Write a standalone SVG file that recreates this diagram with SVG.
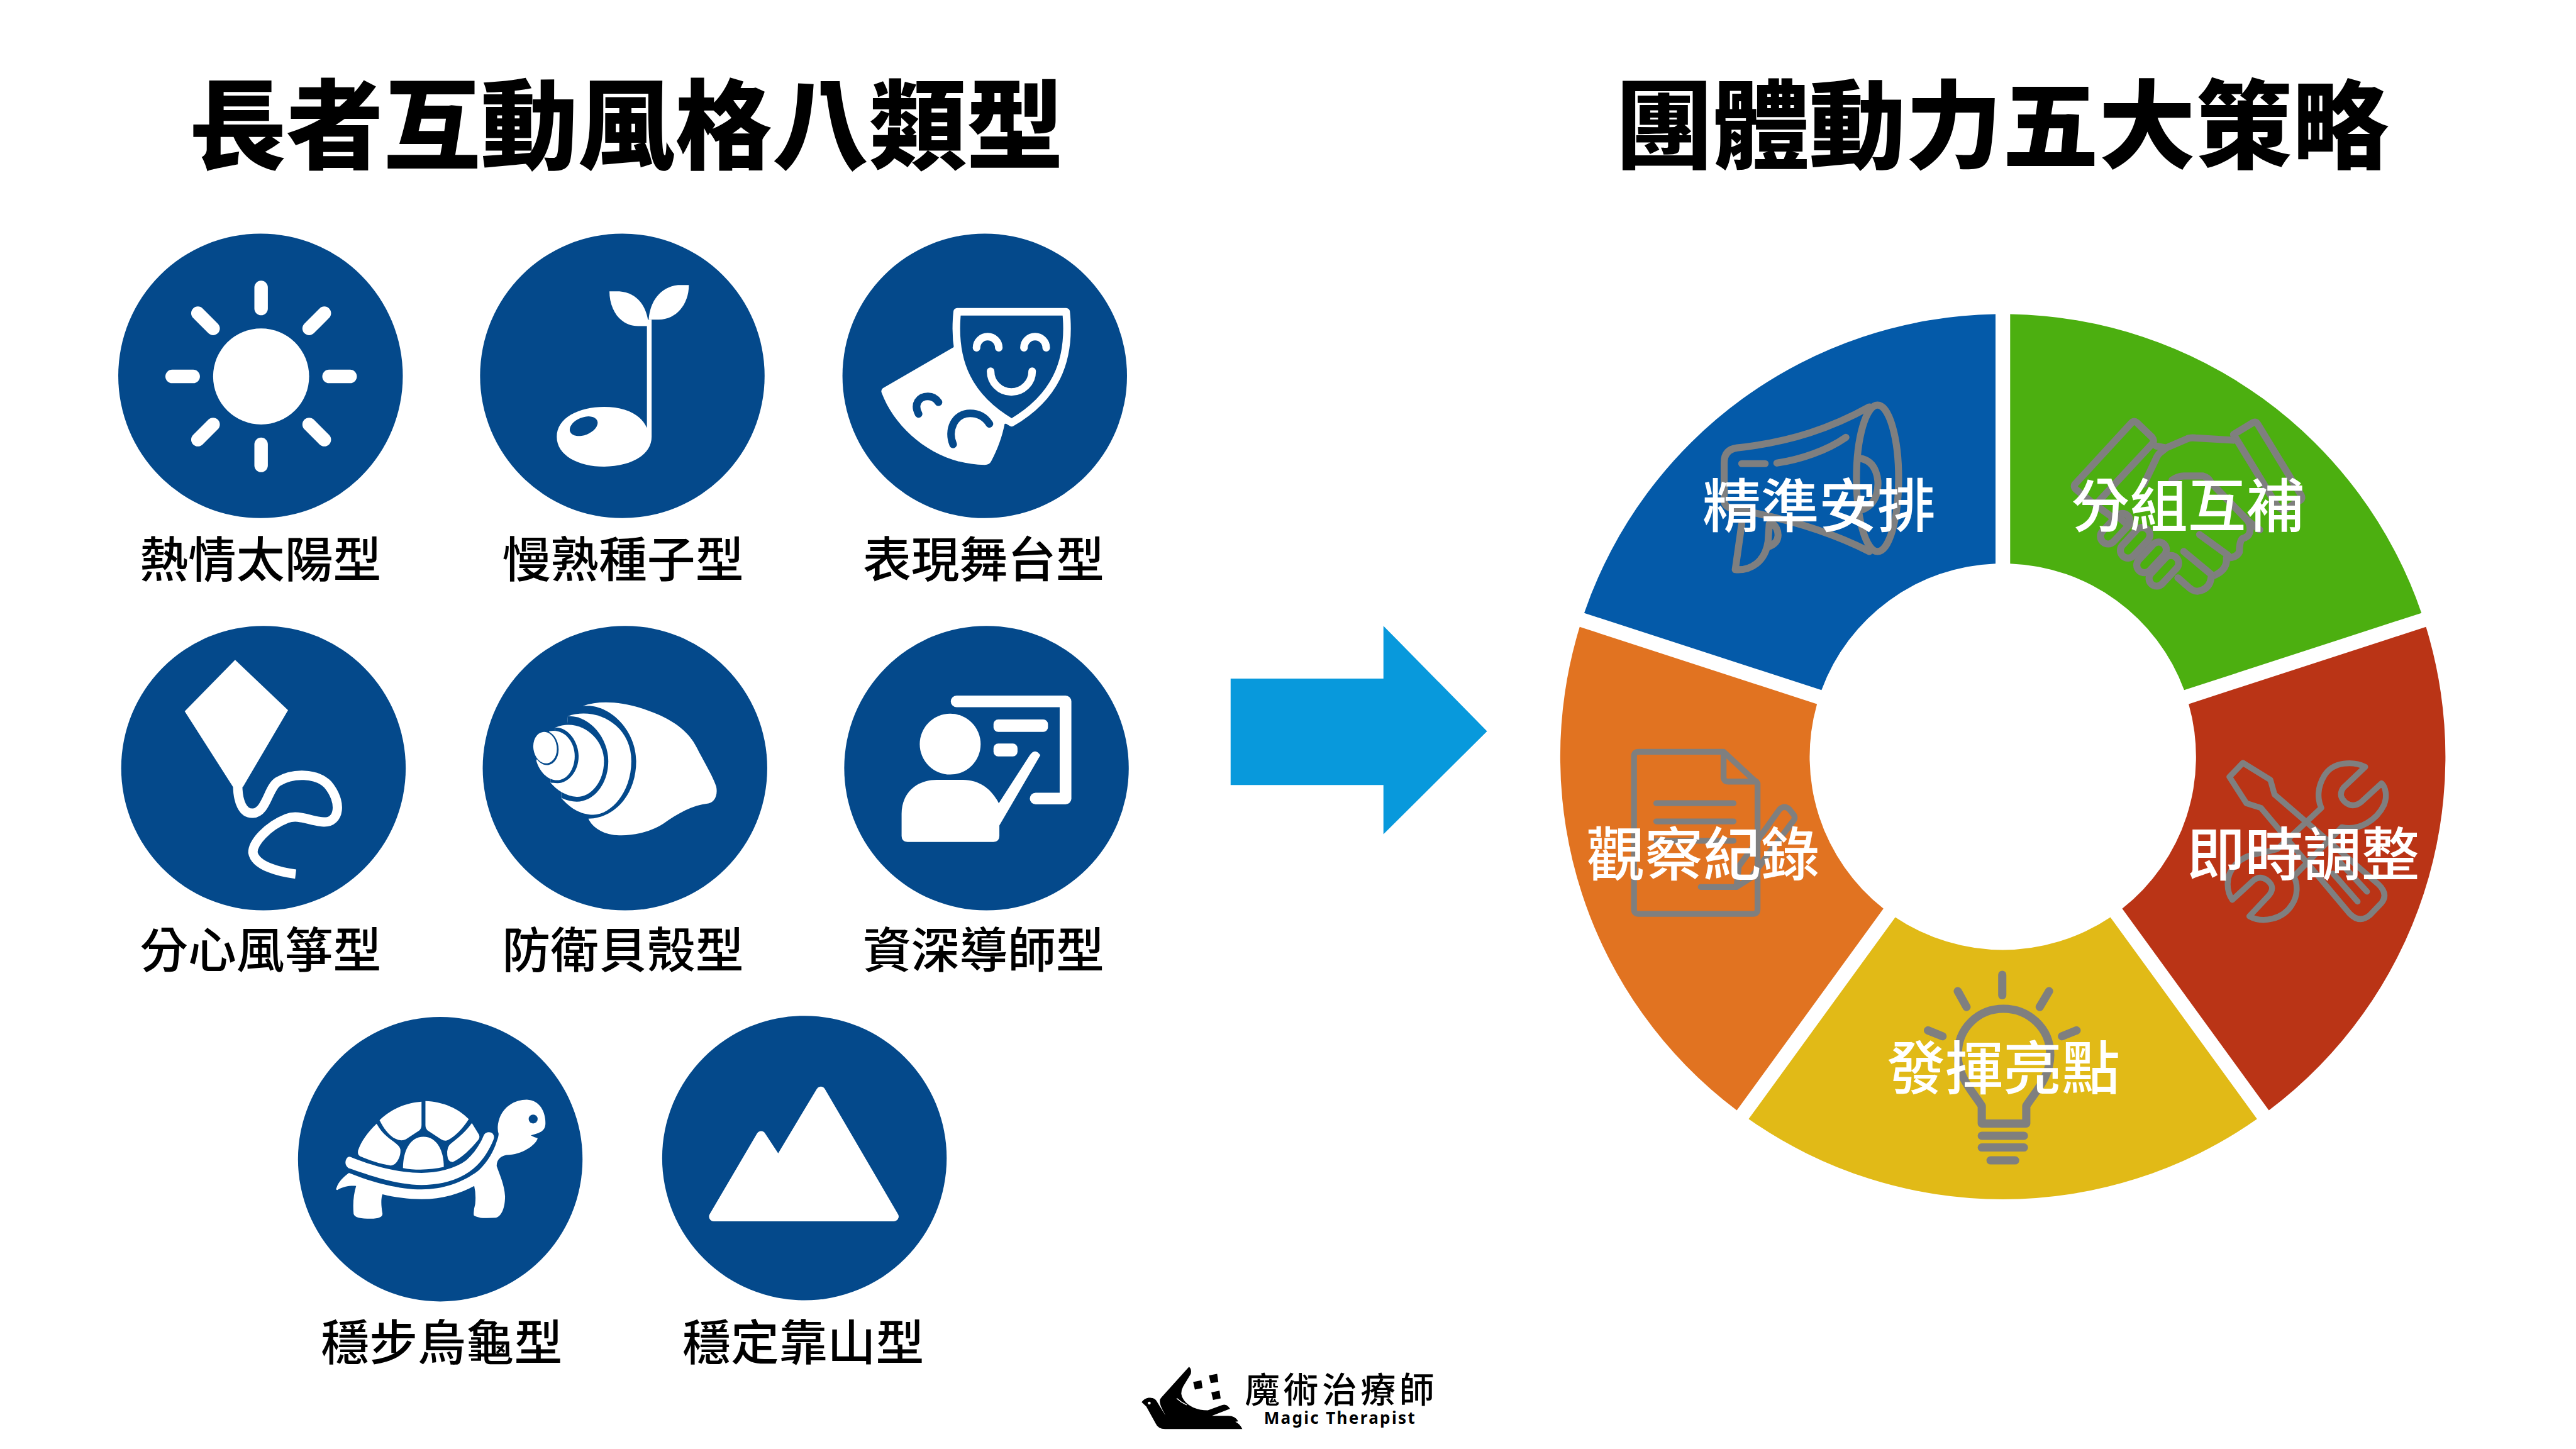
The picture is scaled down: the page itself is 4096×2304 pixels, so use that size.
<svg xmlns="http://www.w3.org/2000/svg" width="4096" height="2304" viewBox="0 0 4096 2304">
<style>
text{font-family:"Noto Sans CJK TC","Noto Sans CJK SC",sans-serif;text-anchor:middle}
.title{font-weight:900;fill:#000}
.label{font-size:82.500px;font-weight:500;fill:#000}
.seg{font-size:99.500px;font-weight:500;fill:#fff}
.disc{fill:#04498B}
.w{fill:#fff}
.bf{fill:#04498B}
.b{fill:none;stroke:#04498B;stroke-linecap:round;stroke-linejoin:round}
.ws{fill:none;stroke:#fff;stroke-linecap:round;stroke-linejoin:round}
.g{fill:none;stroke:#7F7F7F;stroke-width:12;stroke-linecap:round;stroke-linejoin:round}
</style>
<rect width="4096" height="2304" fill="#fff"/>
<g transform="scale(0.93091)">
<g id="titles">
<text class="title" font-size="166" x="1070" y="275">長者互動風格八類型</text>
<text class="title" font-size="165" x="3420" y="275">團體動力五大策略</text>
</g>

<g id="node-sun">
<circle class="disc" cx="445" cy="642" r="243"/>
<circle class="w" cx="446" cy="643" r="82"/>
<path class="ws" stroke-width="23" d="M446,491V527M446,759V795M294,643H330M562,643H598M338,535L364,561M528,725L554,751M554,535L528,561M364,725L338,751"/>
<text class="label" x="445" y="986">熱情太陽型</text>
</g>

<g id="node-seed">
<circle class="disc" cx="1063" cy="642" r="243"/>
<path class="w" d="M1105,546H1113V746C1113,778 1076,797 1032,797C988,797 951,778 951,746C951,714 988,695 1032,695C1066,695 1094,706 1105,731Z"/>
<ellipse cx="997" cy="728" rx="25" ry="15" transform="rotate(-22 997 728)" fill="#04498B"/>
<path class="w" d="M1041,497.500H1058C1090,500 1106,525 1108,557H1090C1060,557 1041,530 1041,497.500Z"/>
<path class="w" d="M1176.600,487H1158C1128,490 1110,515 1108,546H1125C1155,546 1176.600,520 1176.600,487Z"/>
<text class="label" x="1064" y="986">慢熟種子型</text>
</g>

<g id="node-masks">
<circle class="disc" cx="1682" cy="642" r="243"/>
<path class="w" d="M1629,593L1508,663Q1504,666 1506,671C1530,735 1600,794 1682,794Q1690,794 1693,788C1705,765 1712,745 1716,724L1728,722L1640,560Z"/>
<path d="M1635,532.500H1821C1830,620 1800,680 1728,722C1656,680 1626,620 1635,532.500Z" fill="#04498B" stroke="#fff" stroke-width="13" stroke-linejoin="round"/>
<path class="ws" stroke-width="13" d="M1668,594A19,19 0 0 1 1706,594M1749,594A19,19 0 0 1 1787,594M1692,634A35.500,35.500 0 0 0 1763,634"/>
<path class="b" stroke-width="13" d="M1569,707C1560,690 1570,677 1585,677C1593,677 1599,681 1603,687M1628,759C1618,735 1630,706 1657,706C1672,706 1683,713 1690,724"/>
<text class="label" x="1680" y="986">表現舞台型</text>
</g>

<g id="node-kite">
<circle class="disc" cx="450" cy="1312" r="243"/>
<path class="w" d="M401.600,1127L492,1213L415,1344H398L315.500,1215Z"/>
<path class="ws" stroke-width="16" style="stroke-linecap:butt" d="M406,1340C406,1370 415,1390 432,1389C455,1388 458,1345 475,1335C500,1320 540,1320 560,1340C585,1370 580,1405 553,1404C530,1403 510,1390 490,1398C455,1412 432,1440 432,1456C436,1480 480,1490 505,1493"/>
<text class="label" x="445" y="1653">分心風箏型</text>
</g>

<g id="node-shell">
<circle class="disc" cx="1067.500" cy="1312" r="243"/>
<g transform="translate(890,1180) scale(0.33333)">
<path class="w" d="M315,78C420,40 560,60 700,120C790,160 860,210 900,290C930,350 985,440 1000,490C1010,535 990,572 960,577C880,585 800,630 730,680C660,725 570,745 490,740C420,735 365,700 345,655C470,655 590,540 590,360C590,200 450,60 315,78Z"/>
<path class="w" d="M240,130C380,80 565,170 565,360C565,520 460,635 370,635C300,635 245,595 205,548Z"/>
<path class="bf" d="M240,130C350,125 447,240 447,360C447,480 370,568 285,568C255,568 225,558 205,548Z"/>
<path class="w" d="M175,188C300,135 425,240 425,360C425,470 355,545 285,543C230,540 185,510 150,470Z"/>
<path class="bf" d="M175,188C240,185 295,260 295,335C295,415 240,475 185,473C170,473 160,472 150,470Z"/>
<path class="w" d="M145,207C220,190 275,260 275,335C275,400 235,458 185,458C135,458 95,415 78,358Z"/>
<ellipse class="bf" cx="127" cy="293" rx="65" ry="88" transform="rotate(-8 127 293)"/>
<ellipse class="w" cx="123" cy="291" rx="60" ry="81" transform="rotate(-8 123 291)"/>
</g>
<text class="label" x="1064" y="1653">防衛貝殼型</text>
</g>

<g id="node-teacher">
<circle class="disc" cx="1685" cy="1312" r="243"/>
<path class="ws" stroke-width="20" d="M1634,1198H1820V1364H1769"/>
<circle class="w" cx="1623" cy="1271" r="52"/>
<path class="w" d="M1706,1372L1759,1290Q1768,1277 1777,1290L1707,1410V1428Q1707,1438 1697,1438H1550Q1540,1438 1540,1428V1390C1540,1355 1565,1332 1600,1332H1645C1675,1332 1695,1350 1706,1372Z"/>
<rect class="w" x="1697" y="1229" width="93" height="21" rx="8"/>
<rect class="w" x="1697" y="1270" width="41" height="22" rx="8"/>
<text class="label" x="1680" y="1653">資深導師型</text>
</g>

<g id="node-turtle">
<circle class="disc" cx="752" cy="1980" r="243"/>
<g transform="translate(560,1860) scale(0.33333)">
<path class="w" d="M480,65V185Q480,205 465,215L400,258Q375,270 345,255C310,235 285,200 265,160C320,105 400,70 480,65Z"/>
<path class="w" d="M500,62C590,65 670,100 722,155C690,205 650,245 615,262Q600,270 580,258L515,215Q500,205 500,185Z"/>
<path class="w" d="M385,405C385,320 420,245 490,245C560,245 595,320 594,400C530,415 450,418 385,405Z"/>
<path class="w" d="M250,178C280,235 320,255 350,280Q375,300 372,320C372,350 350,395 320,392C270,385 210,365 165,345Q150,335 155,315C170,270 205,220 250,178Z"/>
<path class="w" d="M738,175L775,235Q780,250 770,262C730,310 690,350 640,375Q615,375 612,340Q608,295 630,280C670,250 710,215 738,175Z"/>
<path class="w" d="M115,348C230,395 360,430 480,430C560,430 650,410 710,365C750,330 780,285 800,235Q815,215 840,225Q858,240 848,262C815,340 770,400 700,440C630,480 550,492 480,492C350,490 220,445 105,405Q85,390 92,365Q100,345 115,348Z"/>
<path class="w" d="M108,430C230,480 370,515 480,515C590,515 690,480 770,420C815,380 850,320 865,270Q875,245 875,230Q868,210 872,180C885,100 950,55 1020,55C1090,60 1115,120 1115,175C1115,215 1090,225 1040,238Q1055,248 1075,252C1070,280 1010,330 930,338C890,338 865,360 865,395C880,440 905,490 908,550C908,600 895,650 860,660C820,662 770,665 748,648Q745,625 755,590Q760,540 750,497C680,535 590,565 480,565C410,565 340,555 280,540Q268,570 280,640Q280,665 220,665C170,665 135,660 132,640Q125,560 145,497C110,495 80,500 48,518Q38,518 45,505C55,475 80,450 108,430Z"/>
<circle class="bf" cx="1052" cy="154" r="23"/>
</g>
<text class="label" x="754.500" y="2323">穩步烏龜型</text>
</g>

<g id="node-mountain">
<circle class="disc" cx="1374" cy="1978" r="243"/>
<path class="w" stroke="#fff" stroke-width="16" stroke-linejoin="round" d="M1402,1864L1527,2078H1219L1300,1940L1329.500,1985Z"/>
<text class="label" x="1372" y="2323">穩定靠山型</text>
</g>

<g id="connectors">
<path fill="#0899DC" d="M2102,1159H2363V1069L2540,1249L2363,1425V1341H2102Z"/>
</g>

<g id="node-precise">
<path fill="#045AA9" d="M2705.960,1047.010A756,756 0 0 1 3408.500,536.600V962.700A330,330 0 0 0 3111.260,1178.710Z"/>
<g class="g">
<path d="M3193,695C3130,730 3060,755 2967,765Q2945,768 2945,790V857Q2947,868 2965,870C3050,885 3130,910 3193,942"/>
<ellipse cx="3207" cy="817" rx="36" ry="125"/>
<path d="M3177,783C3205,787 3212,820 3205,845C3200,860 3190,868 3177,872"/>
<path d="M2975,792H3015M3035,791C3075,785 3120,770 3153,747"/>
<path d="M2975,895L2964,973C2990,975 3015,960 3020,925L3022,895M3027,893C3040,905 3042,925 3023,933"/>
</g>
<text class="seg" x="3107" y="900">精準安排</text>
</g>

<g id="node-complement">
<path fill="#4CAF10" d="M3433.500,536.600A756,756 0 0 1 4136.040,1047.010L3730.740,1178.710A330,330 0 0 0 3433.500,962.700Z"/>
<g class="g">
<path d="M3641,722Q3645,718 3650,722L3676,747Q3680,752 3677,757L3584,857Q3578,862 3573,858L3546,836Q3540,830 3546,825Z"/>
<path d="M3815,742L3848,722Q3853,719 3856,724L3930,845Q3934,852 3928,855L3900,872L3890,865Z"/>
<path d="M3683,762L3700,765L3735,750Q3740,747 3750,748L3815,752M3700,765L3690,773Q3685,777 3682,785L3662,827"/>
<path d="M3710,820Q3720,813 3730,813H3763Q3772,815 3777,825L3840,890Q3850,915 3830,920Q3825,925 3825,943Q3820,953 3803,953Q3805,975 3777,985Q3775,1007 3753,1010Q3745,1010 3735,1000L3720,987"/>
<path d="M3757,913L3805,948M3730,942L3778,982M3860,905L3840,890"/>
<path d="M3580,863L3610,885M3615,880L3630,893"/>
<rect x="3582" y="890" width="62" height="26" rx="13" transform="rotate(-47 3613 903)"/>
<rect x="3616" y="914" width="62" height="26" rx="13" transform="rotate(-47 3647 927)"/>
<rect x="3644" y="939" width="62" height="26" rx="13" transform="rotate(-47 3675 952)"/>
<rect x="3665" y="962" width="62" height="26" rx="13" transform="rotate(-47 3696 975)"/>
</g>
<text class="seg" x="3737" y="900">分組互補</text>
</g>

<g id="node-adjust">
<path fill="#BA3416" d="M4143.760,1070.790A756,756 0 0 1 3875.410,1896.650L3624.910,1551.950A330,330 0 0 0 3738.460,1202.490Z"/>
<g class="g" style="stroke-width:10">
<path d="M3831,1303L3878,1332L3885,1357L4062,1510Q4080,1527 4068,1542L4048,1563Q4030,1578 4013,1560L3862,1380L3837,1372L3808,1327Z"/>
<path d="M4040,1310C4020,1300 3985,1300 3970,1325C3958,1345 3958,1365 3965,1380L3890,1450C3885,1452 3870,1455 3857,1458C3825,1462 3805,1485 3805,1510C3805,1520 3808,1530 3813,1537L3850,1503Q3860,1495 3872,1503Q3888,1515 3875,1530L3842,1565C3865,1578 3900,1570 3915,1545C3925,1530 3925,1510 3918,1497L4000,1413C4030,1420 4060,1400 4072,1375C4078,1360 4075,1345 4068,1338L4033,1370Q4020,1380 4008,1372Q3992,1360 4003,1345Z"/>
<path d="M3985,1492L4027,1540M3997,1473L4043,1523"/>
</g>
<text class="seg" x="3934" y="1495">即時調整</text>
</g>

<g id="node-highlight">
<path fill="#E1BA17" d="M3855.190,1911.350A756,756 0 0 1 2986.810,1911.350L3237.310,1566.650A330,330 0 0 0 3604.690,1566.650Z"/>
<g class="g" style="stroke-width:14">
<path d="M3420,1665V1700M3344,1693L3359,1720M3500,1693L3484,1720M3293,1760L3318,1770M3547,1760L3522,1770"/>
<path d="M3385,1919V1889C3370,1865 3344,1840 3344,1802C3344,1755 3380,1723 3422,1723C3464,1723 3502,1755 3502,1802C3502,1840 3476,1865 3461,1889V1919Z"/>
<path d="M3385,1940H3457M3385,1960H3457M3400,1982H3442"/>
</g>
<text class="seg" x="3422" y="1861">發揮亮點</text>
</g>

<g id="node-observe">
<path fill="#E17321" d="M2966.590,1896.650A756,756 0 0 1 2698.240,1070.790L3103.540,1202.490A330,330 0 0 0 3217.090,1551.950Z"/>
<g class="g" style="stroke-width:10">
<path d="M2944,1284H2799Q2791,1284 2791,1292V1553Q2791,1561 2799,1561H2994Q3002,1561 3002,1553V1338ZM2944,1284V1327Q2944,1335 2952,1335H3000"/>
<path d="M2829,1372H2961M2829,1403H2961M2829,1436H2961M2905,1515H2966"/>
<path d="M2966,1515L2970,1480L3040,1382Q3048,1375 3056,1382L3064,1392Q3068,1398 3060,1406L2990,1500Z"/>
</g>
<text class="seg" x="2909" y="1495">觀察紀錄</text>
</g>

<g id="logo">
<g transform="matrix(1 0 0 0.933 0 154)">
<path fill="#000" d="M1950,2402C1954,2396 1960,2393 1966,2394C1970,2394 1973,2396 1975,2399L1991,2427C1986,2416 1981,2408 1981,2400Q1981,2396 1984,2393L2031,2337Q2036,2342 2034,2350L2021,2373Q2014,2386 2022,2398C2030,2410 2045,2417 2063,2417L2088,2407Q2094,2405 2098,2410L2101,2414L2070,2427H2098Q2110,2427 2115,2437L2110,2438Q2118,2442 2122,2451H1990Q1978,2451 1974,2441L1958,2410Z"/>
<path stroke="#fff" stroke-width="1.500" fill="none" d="M2010,2395C2018,2403 2025,2406 2027,2407"/>
<circle cx="1963" cy="2403.600" r="2.500" fill="#fff"/>
<path fill="#000" d="M2038,2365L2052,2362L2054,2376L2041,2379ZM2065,2353L2079,2350L2081,2365L2068,2367ZM2069,2384L2083,2381L2085,2395L2072,2398Z"/>
</g>
<text x="2291" y="2395" font-size="60" font-weight="500" letter-spacing="6">魔術治療師</text>
<text x="2289" y="2432" font-size="28" font-weight="700" letter-spacing="2.500" style="font-family:'Noto Sans',sans-serif">Magic Therapist</text>
</g>
</g>
</svg>
